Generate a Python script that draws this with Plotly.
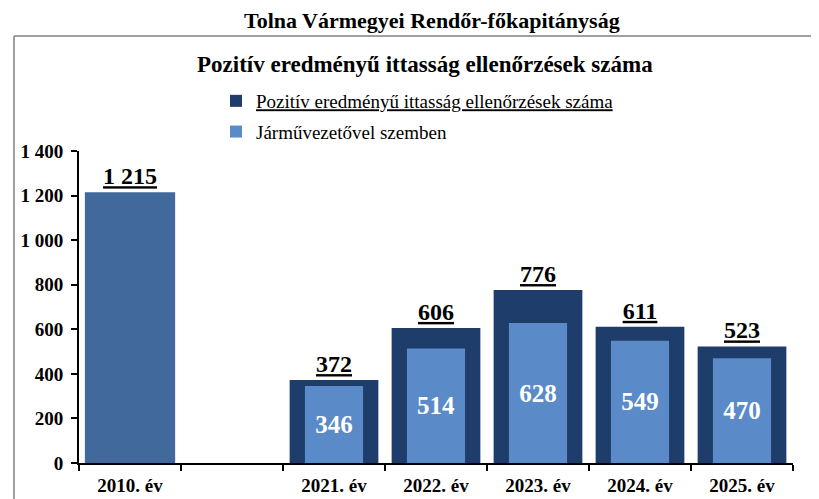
import plotly.graph_objects as go

categories = ["2010. év", " ", "2021. év", "2022. év", "2023. év", "2024. év", "2025. év"]
totals = [1215, None, 372, 606, 776, 611, 523]
drivers = [None, None, 346, 514, 628, 549, 470]
y_ticks = [0, 200, 400, 600, 800, 1000, 1200, 1400]

def fmt(v):
    return "" if v is None else f"{v:,}".replace(",", " ")

FONT = "Liberation Serif"
DARK = "#1f3d6a"
LIGHT = "#5a8ac8"
OLD = "#41699c"

OFF = 8  # page body margin
SW, SH = 819, 499
W, H = SW - OFF, SH - OFF
# screen-coordinate plot area
PL, PR, PT, PB = 79, 793, 151, 463
L = PL - OFF
T = PT - OFF
R = W - (PR - OFF)
B = H - (PB - OFF)
ph = PB - PT
pw = PR - PL

def px(x):
    return (x - PL) / pw

def py(y):
    return (PB - y) / ph

old_y = [v if i == 0 else None for i, v in enumerate(totals)]
new_y = [None if i == 0 else v for i, v in enumerate(totals)]

fig = go.Figure()
fig.add_trace(go.Bar(
    x=categories, y=old_y, width=0.885, showlegend=False,
    marker=dict(color=OLD, line=dict(width=0)),
    text=[f"<b><u>{fmt(v)}</u></b>" if v is not None else "" for v in old_y],
    textposition="outside", cliponaxis=False,
    textfont=dict(family=FONT, size=24, color="black"),
    hoverinfo="skip",
))
fig.add_trace(go.Bar(
    x=categories, y=new_y, width=0.87,
    name="<u>Pozitív eredményű ittasság ellenőrzések száma</u>",
    marker=dict(color=DARK, line=dict(width=0)),
    text=[f"<b><u>{fmt(v)}</u></b>" if v is not None else "" for v in new_y],
    textposition="outside", cliponaxis=False,
    textfont=dict(family=FONT, size=24, color="black"),
    legendgroup="a", hoverinfo="skip",
))
fig.add_trace(go.Bar(
    x=categories, y=drivers, width=0.57,
    name="Járművezetővel szemben",
    marker=dict(color=LIGHT, line=dict(width=0)),
    text=[f"<b>{fmt(v)}</b>" if v is not None else "" for v in drivers],
    textposition="inside", insidetextanchor="middle",
    textfont=dict(family=FONT, size=25, color="white"),
    legendgroup="b", hoverinfo="skip",
))

fig.update_layout(
    width=W, height=H, barmode="overlay",
    margin=dict(l=L, r=R, t=T, b=B, autoexpand=False),
    paper_bgcolor="white", plot_bgcolor="white",
    font=dict(family=FONT, color="black"),
    showlegend=True,
    legend=dict(x=px(216), y=py(82), xanchor="left", yanchor="top",
                font=dict(family=FONT, size=19, color="black"),
                tracegroupgap=3, traceorder="grouped", bgcolor="rgba(0,0,0,0)"),
    xaxis=dict(type="category", tickson="boundaries", ticks="outside", ticklen=6,
               tickwidth=2, tickcolor="black", showline=True, linewidth=2, linecolor="black",
               showgrid=False, tickfont=dict(family=FONT, size=19, color="black"),
               tickvals=categories, ticktext=[f"<b>{c}</b>" for c in categories],
               range=[-0.5, 6.5], automargin=False, ticklabelstandoff=4),
    yaxis=dict(range=[0, 1400], tickvals=y_ticks, ticktext=[f"<b>{fmt(v)}</b>" for v in y_ticks],
               ticks="outside", ticklen=6, tickwidth=2, tickcolor="black",
               showline=True, linewidth=2, linecolor="black", showgrid=False,
               zeroline=False, tickfont=dict(family=FONT, size=19, color="black"),
               ticklabelstandoff=4, automargin=False),
    shapes=[
        dict(type="line", xref="paper", yref="paper", x0=px(14), x1=px(830), y0=py(36), y1=py(36),
             line=dict(color="#808080", width=1.5)),
        dict(type="line", xref="paper", yref="paper", x0=px(14), x1=px(14), y0=py(36), y1=py(510),
             line=dict(color="#808080", width=1.5)),
    ],
    annotations=[
        dict(text="<b>Tolna Vármegyei Rendőr-főkapitányság</b>", xref="paper", yref="paper",
             x=px(432), y=py(21), xanchor="center", yanchor="middle", showarrow=False,
             font=dict(family=FONT, size=22, color="black")),
        dict(text="<b>Pozitív eredményű ittasság ellenőrzések száma</b>", xref="paper", yref="paper",
             x=px(425), y=py(64), xanchor="center", yanchor="middle", showarrow=False,
             font=dict(family=FONT, size=23, color="black")),
    ],
)

fig.write_html("out.html")
